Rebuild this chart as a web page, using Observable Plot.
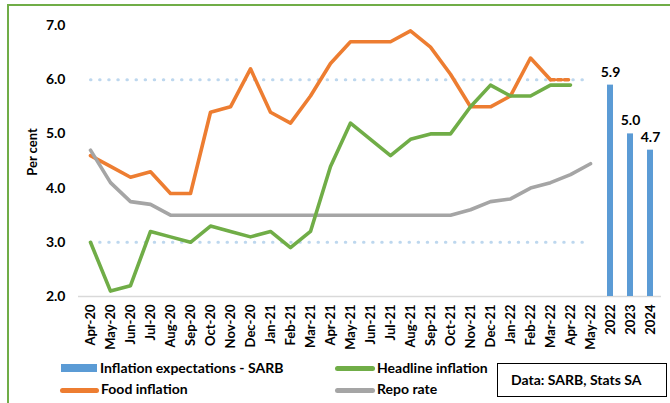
<!DOCTYPE html>
<html><head><meta charset="utf-8">
<script src="https://cdn.jsdelivr.net/npm/d3@7"></script>
<script src="https://cdn.jsdelivr.net/npm/@observablehq/plot@0.6"></script>
<style>
body{margin:0;background:#fff;font-family:Lato,"Open Sans",sans-serif;}
#wrap{position:relative;width:670px;height:403px;overflow:hidden;background:#fff;}
#frame{position:absolute;left:7px;top:4px;width:720px;height:440px;border-left:2px solid #70AD47;border-top:2px solid #70AD47;pointer-events:none;}
#chart{position:absolute;left:0;top:0;}
.sw{position:absolute;}
.lt{position:absolute;font-size:14px;line-height:16px;font-weight:bold;color:#000;white-space:nowrap;}
#box{position:absolute;left:497px;top:363px;width:168px;height:32px;border:1.5px solid #000;}
</style>
</head><body>
<div id="wrap">
  <div id="chart"></div>
  <div id="frame"></div>
  <div class="sw" style="left:61px;top:364px;width:36px;height:8px;background:#5B9BD5"></div>
  <div class="lt" style="left:100px;top:360px">Inflation expectations - SARB</div>
  <div class="sw" style="left:60px;top:388px;width:39px;height:4.5px;border-radius:3px;background:#ED7D31"></div>
  <div class="lt" style="left:101px;top:381px">Food inflation</div>
  <div class="sw" style="left:335px;top:366px;width:40px;height:4.5px;border-radius:3px;background:#70AD47"></div>
  <div class="lt" style="left:377px;top:360px">Headline inflation</div>
  <div class="sw" style="left:335px;top:388px;width:40px;height:4.5px;border-radius:3px;background:#A5A5A5"></div>
  <div class="lt" style="left:377px;top:381px">Repo rate</div>
  <div id="box"></div>
  <div class="lt" style="left:511px;top:372px">Data: SARB, Stats SA</div>
</div>
<script>
const months = ["Apr-20","May-20","Jun-20","Jul-20","Aug-20","Sep-20","Oct-20","Nov-20","Dec-20","Jan-21","Feb-21","Mar-21","Apr-21","May-21","Jun-21","Jul-21","Aug-21","Sep-21","Oct-21","Nov-21","Dec-21","Jan-22","Feb-22","Mar-22","Apr-22","May-22"];
const years = ["2022","2023","2024"];
const headline = [3.0,2.1,2.2,3.2,3.1,3.0,3.3,3.2,3.1,3.2,2.9,3.2,4.4,5.2,4.9,4.6,4.9,5.0,5.0,5.5,5.9,5.7,5.7,5.9,5.9,null];
const food = [4.6,4.4,4.2,4.3,3.9,3.9,5.4,5.5,6.2,5.4,5.2,5.7,6.3,6.7,6.7,6.7,6.9,6.6,6.1,5.5,5.5,5.7,6.4,6.0,6.0,null];
const repo = [4.7,4.1,3.75,3.7,3.5,3.5,3.5,3.5,3.5,3.5,3.5,3.5,3.5,3.5,3.5,3.5,3.5,3.5,3.5,3.6,3.75,3.8,4.0,4.1,4.25,4.45];
const expectations = [5.9,5.0,4.7];
const yTicks = [2,3,4,5,6,7];
const targetBand = [3,6];

const cats = months.concat(years);
const series = (vals) => months.map((m,i)=>({cat:m, v:vals[i]})).filter(d=>d.v!=null);
const headRows = series(headline);
const foodRows = series(food);
const foodSolid = foodRows.slice(0, foodRows.length-1);
const foodDashed = foodRows.slice(foodRows.length-2);
const repoRows = series(repo);
const expRows = years.map((y,i)=>({cat:y, v:expectations[i]}));
const gridRows = targetBand.flatMap(v=>[{cat:months[0], v},{cat:months[months.length-1], v}]);

const chart = Plot.plot({
  width: 670, height: 352,
  marginLeft: 78, marginRight: 9, marginTop: 25, marginBottom: 56,
  x: {type:"band", domain: cats, paddingInner: 0.7, paddingOuter: 0.35},
  y: {domain: [2,7]},
  style: {fontFamily:"Lato, 'Open Sans', sans-serif", fontWeight:"bold", color:"#000", background:"transparent", overflow:"visible"},
  marks: [
    Plot.ruleY([2], {stroke:"#d9d9d9", strokeWidth:1.6}),
    Plot.line(gridRows, {x:"cat", y:"v", z:"v", stroke:"#bdd7ee", strokeWidth:3, strokeDasharray:"0.5,8.6", strokeLinecap:"round"}),
    Plot.barY(expRows, {x:"cat", y1:2, y2:"v", fill:"#5B9BD5"}),
    Plot.text(expRows, {x:"cat", y:"v", text:d=>d.v.toFixed(1), dy:-13, fontSize:14, fontWeight:"bold", fill:"#000"}),
    Plot.line(foodSolid, {x:"cat", y:"v", stroke:"#ED7D31", strokeWidth:3.6, strokeLinejoin:"round"}),
    Plot.line(foodDashed, {x:"cat", y:"v", stroke:"#ED7D31", strokeWidth:3.6, strokeDasharray:"4,3"}),
    Plot.line(repoRows, {x:"cat", y:"v", stroke:"#A5A5A5", strokeWidth:3.6, strokeLinejoin:"round"}),
    Plot.line(headRows, {x:"cat", y:"v", stroke:"#70AD47", strokeWidth:3.6, strokeLinejoin:"round"}),
    Plot.axisY({ticks: yTicks, tickFormat: d=>d.toFixed(1), tickSize:0, tickPadding:13, fontSize:14, label:null}),
    Plot.axisX({tickRotate:-90, tickSize:0, tickPadding:8, fontSize:13, label:null}),
    Plot.text(["Per cent"], {frameAnchor:"left", textAnchor:"middle", dx:-46, dy:-9, rotate:-90, fontSize:13, fontWeight:"bold", fill:"#000"})
  ]
});
document.getElementById("chart").appendChild(chart);
</script>
</body></html>
